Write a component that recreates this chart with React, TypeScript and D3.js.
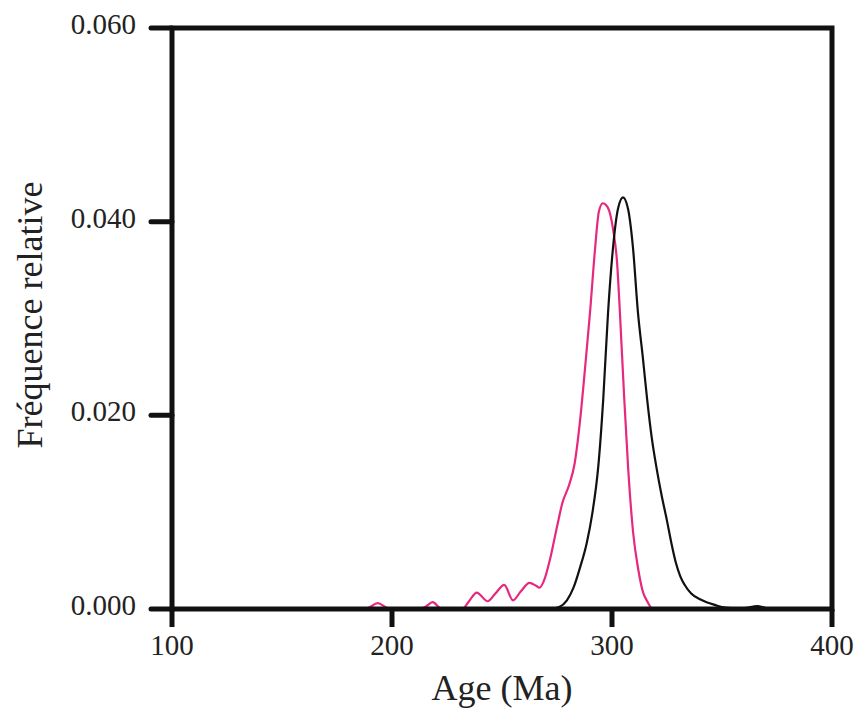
import React from "react";
import * as d3 from "d3";

const xTicks = [100, 200, 300, 400];
const yTicks = [0, 0.02, 0.04, 0.06];

const pinkAges = [185, 189, 193.5, 198, 202, 212, 215, 218.5, 222, 226, 232, 235, 238.5, 243.5, 247, 251, 255, 258.5, 262.5, 265.5, 267, 269.5, 272, 275, 277.5, 280.5, 283, 285.5, 288, 290, 292.3, 294, 295.8, 298, 300.5, 302.3, 303.6, 305.5, 307.3, 309.6, 312, 314, 316, 318];
const pinkFreq = [0, 0.0001, 0.0006, 0.0001, 0, 0, 0.0002, 0.0007, 0.0001, 0, 0, 0.0008, 0.0017, 0.0008, 0.0016, 0.0025, 0.0009, 0.0018, 0.0027, 0.0024, 0.0022, 0.0032, 0.0053, 0.0085, 0.011, 0.0128, 0.015, 0.0195, 0.0255, 0.0306, 0.0372, 0.041, 0.0419, 0.0415, 0.0392, 0.0358, 0.0306, 0.022, 0.0147, 0.0079, 0.004, 0.0018, 0.0008, 0];

const blackAges = [272, 276, 279.5, 282.5, 285.5, 288.5, 291, 293.8, 296, 298.2, 300.5, 302.7, 305, 307.3, 309.5, 311.8, 314, 316, 318, 320.3, 322.5, 325, 327, 329, 331, 333, 336, 340, 343, 347, 350, 355, 360, 366, 370, 374];
const blackFreq = [0, 0.0002, 0.0009, 0.0022, 0.0043, 0.0068, 0.0098, 0.0148, 0.0216, 0.0306, 0.0374, 0.0413, 0.0425, 0.0413, 0.0374, 0.0306, 0.026, 0.0216, 0.0178, 0.0145, 0.0118, 0.0091, 0.0068, 0.0048, 0.0034, 0.0025, 0.0016, 0.001, 0.0007, 0.0004, 0.0002, 0.0001, 0.0001, 0.0003, 0.0001, 0];

export default function App() {
  const left = 172, right = 832, top = 28, bottom = 609;
  const x = d3.scaleLinear().domain([100, 400]).range([left, right]);
  const y = d3.scaleLinear().domain([0, 0.06]).range([bottom, top]);
  const line = d3
    .line<[number, number]>()
    .x((d) => x(d[0]))
    .y((d) => y(d[1]))
    .curve(d3.curveMonotoneX);
  const pink = pinkAges.map((a, i) => [a, pinkFreq[i]] as [number, number]);
  const black = blackAges.map((a, i) => [a, blackFreq[i]] as [number, number]);
  const font = "'Liberation Serif', 'Times New Roman', serif";
  return (
    <svg
      width={857}
      height={716}
      style={{ position: "absolute", left: 0, top: 0, background: "#fff" }}
    >
      <path d={line(pink) || ""} fill="none" stroke="#e6287f" strokeWidth={2.2} />
      <path d={line(black) || ""} fill="none" stroke="#111" strokeWidth={2.2} />
      <rect x={left} y={top} width={right - left} height={bottom - top} fill="none" stroke="#111" strokeWidth={5} />
      {xTicks.map((t) => (
        <g key={"x" + t}>
          <line x1={x(t)} x2={x(t)} y1={bottom} y2={bottom + 18} stroke="#111" strokeWidth={5} />
          <text x={x(t)} y={bottom + 46} textAnchor="middle" fontFamily={font} fontSize={29} fill="#222">
            {t}
          </text>
        </g>
      ))}
      {yTicks.map((t) => (
        <g key={"y" + t}>
          <line x1={left - 21} x2={left} y1={y(t)} y2={y(t)} stroke="#111" strokeWidth={5} strokeLinecap="round" />
          <text x={136} y={y(t) + 6} textAnchor="end" fontFamily={font} fontSize={29} fill="#222">
            {t.toFixed(3)}
          </text>
        </g>
      ))}
      <text x={(left + right) / 2} y={700} textAnchor="middle" fontFamily={font} fontSize={36} fill="#222">
        Age (Ma)
      </text>
      <text
        transform="translate(42,315) rotate(-90)"
        textAnchor="middle"
        fontFamily={font}
        fontSize={36}
        fill="#222"
      >
        Fréquence relative
      </text>
    </svg>
  );
}
